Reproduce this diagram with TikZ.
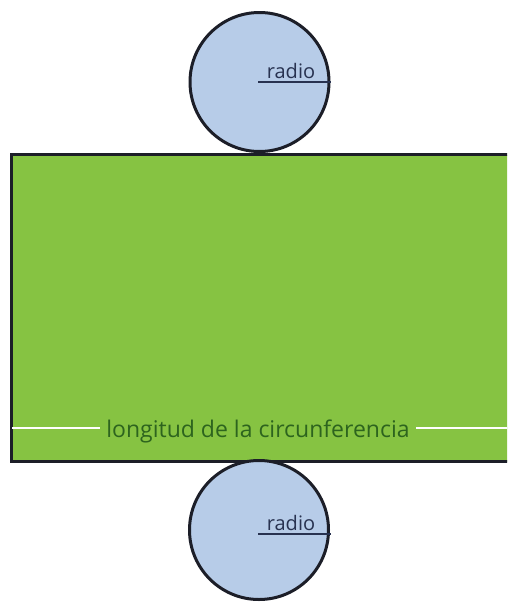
\documentclass[tikz,border=0pt]{standalone}
\usepackage{fontspec}
\setmainfont{Open Sans}
\definecolor{rectgreen}{RGB}{134,195,66}
\definecolor{circblue}{RGB}{183,204,232}
\definecolor{edge}{RGB}{28,30,40}
\definecolor{txtgreen}{RGB}{45,100,30}
\definecolor{txtblue}{RGB}{40,50,80}
\begin{document}
\begin{tikzpicture}[x=1pt,y=-1pt,
  disc/.style={circle,draw=edge,line width=3pt,fill=circblue,minimum size=139pt,inner sep=0pt},
  radiolbl/.style={font=\fontsize{20}{20}\selectfont,text=txtblue,inner sep=0pt,anchor=base},
  radline/.style={draw=txtblue,line width=1.6pt}]
\useasboundingbox (0,0) rectangle (507,603);
\clip (0,0) rectangle (507,603);
\fill[white] (0,0) rectangle (507,603);
\node[draw=edge,line width=3pt,fill=rectgreen,minimum width=500pt,minimum height=307pt,inner sep=0pt,anchor=north west] (rect) at (10,153) {};
\node[disc] (top) at (259.5,82) {};
\node[disc] (bot) at (259,530) {};
% radius lines
\draw[radline] (258,82) -- (top.east);
\draw[radline] (258,534) -- (331,534);
\node[radiolbl] (rt) at (291,78) {radio};
\node[radiolbl] (rb) at (291,530) {radio};
% length label
\node[font=\fontsize{23}{23}\selectfont,text=txtgreen,inner sep=0pt,anchor=base] (len) at (258,437) {longitud de la circunferencia};
\coordinate (wl) at (12,428);
\coordinate (wr) at (507,428);
\draw[white,line width=1.6pt] (wl) -- ([xshift=-6pt]len.west |- wl);
\draw[white,line width=1.6pt] ([xshift=6pt]len.east |- wr) -- (wr);
\end{tikzpicture}
\end{document}
